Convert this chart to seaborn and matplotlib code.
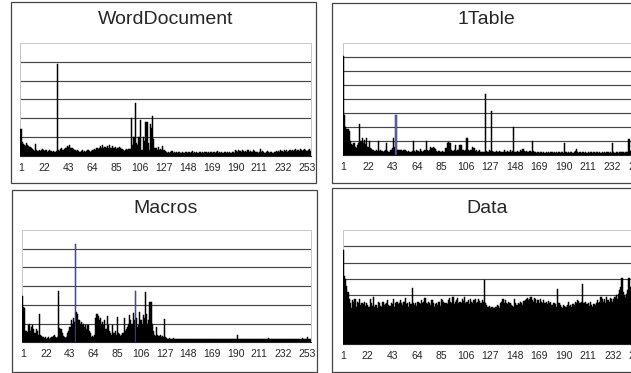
"""
    Byte value histograms of four OLE streams, drawn as 2x2 bar panels.
"""

import numpy as np
import pandas as pd
import seaborn as sns
import matplotlib.pyplot as plt
from matplotlib.patches import Rectangle

byte_index = list(range(1, 257))
tick_values = [1, 22, 43, 64, 85, 106, 127, 148, 169, 190, 211, 232, 253]
tick_labels = [str(v) for v in tick_values]

word_document = [
    1.45, 0.75, 0.65, 0.6, 0.55, 0.7, 0.6, 0.55, 0.5, 0.45, 0.35, 0.3, 0.25, 0.65, 0.3, 0.25,
    0.3, 0.25, 0.3, 0.35, 0.3, 0.25, 0.3, 0.2, 0.25, 0.3, 0.25, 0.25, 0.2, 0.25, 0.2, 0.25,
    4.9, 0.3, 0.25, 0.35, 0.45, 0.3, 0.35, 0.4, 0.45, 0.55, 0.5, 0.6, 0.45, 0.4, 0.35, 0.3,
    0.3, 0.25, 0.3, 0.25, 0.2, 0.25, 0.3, 0.2, 0.25, 0.2, 0.25, 0.3, 0.25, 0.2, 0.25, 0.3,
    0.3, 0.35, 0.3, 0.4, 0.35, 0.45, 0.55, 0.4, 0.6, 0.45, 0.5, 0.4, 0.55, 0.45, 0.6, 0.4,
    0.45, 0.55, 0.4, 0.5, 0.35, 0.4, 0.45, 0.5, 0.4, 0.35, 0.3, 0.25, 0.3, 0.35, 0.3, 0.35,
    0.35, 2.0, 0.6, 1.0, 1.0, 2.8, 0.7, 0.6, 1.0, 1.9, 0.3, 0.3, 1.0, 0.8, 1.8, 1.8,
    0.7, 0.3, 1.7, 1.5, 2.15, 0.9, 0.4, 0.4, 0.3, 0.5, 0.3, 0.35, 0.3, 0.55, 0.3, 0.25,
    0.2, 0.15, 0.2, 0.15, 0.2, 0.25, 0.15, 0.2, 0.15, 0.2, 0.15, 0.2, 0.2, 0.15, 0.2, 0.15,
    0.15, 0.2, 0.2, 0.15, 0.2, 0.15, 0.2, 0.25, 0.15, 0.2, 0.15, 0.2, 0.15, 0.2, 0.2, 0.15,
    0.2, 0.15, 0.2, 0.2, 0.15, 0.2, 0.15, 0.2, 0.2, 0.15, 0.2, 0.15, 0.2, 0.25, 0.15, 0.2,
    0.15, 0.2, 0.15, 0.2, 0.2, 0.15, 0.2, 0.15, 0.2, 0.15, 0.2, 0.2, 0.15, 0.3, 0.25, 0.2,
    0.3, 0.25, 0.2, 0.3, 0.25, 0.2, 0.25, 0.2, 0.3, 0.2, 0.25, 0.2, 0.2, 0.3, 0.25, 0.2,
    0.2, 0.15, 0.2, 0.35, 0.2, 0.25, 0.2, 0.15, 0.2, 0.25, 0.2, 0.15, 0.2, 0.2, 0.15, 0.2,
    0.2, 0.25, 0.2, 0.25, 0.2, 0.3, 0.25, 0.2, 0.3, 0.25, 0.3, 0.2, 0.25, 0.3, 0.25, 0.3,
    0.25, 0.3, 0.35, 0.25, 0.3, 0.25, 0.35, 0.3, 0.25, 0.3, 0.35, 0.3, 0.25, 0.3, 0.35, 0.25,
]

one_table = [
    7.05, 2.9, 2.0, 1.9, 1.9, 1.7, 1.0, 0.8, 0.7, 0.9, 0.6, 0.5, 0.7, 0.9, 2.2, 1.0,
    1.2, 0.9, 1.1, 0.8, 1.25, 0.6, 1.0, 0.5, 0.45, 0.4, 0.35, 0.3, 0.35, 0.3, 1.05, 0.3,
    0.35, 0.3, 0.25, 0.3, 0.4, 0.85, 0.3, 0.25, 0.35, 0.4, 0.5, 1.2, 0.6, 2.9, 0.4, 0.35,
    0.4, 0.35, 0.4, 0.3, 0.35, 0.4, 0.3, 0.25, 0.3, 0.25, 0.2, 0.3, 1.0, 0.3, 0.25, 0.35,
    0.3, 0.25, 0.45, 0.3, 0.25, 0.3, 0.35, 1.0, 0.4, 0.3, 0.35, 0.6, 0.55, 0.6, 0.5, 0.45,
    0.3, 0.25, 0.3, 0.2, 0.25, 0.3, 0.25, 0.2, 0.5, 0.9, 0.95, 0.85, 0.9, 0.4, 0.3, 0.35,
    0.7, 0.3, 0.35, 0.4, 0.75, 0.7, 0.4, 0.35, 0.3, 0.4, 1.25, 0.35, 0.3, 0.4, 0.35, 0.6,
    0.55, 0.3, 0.35, 0.25, 0.3, 0.35, 0.25, 0.2, 0.25, 0.2, 4.4, 0.3, 0.25, 0.35, 0.3, 3.15,
    0.3, 0.25, 0.2, 0.3, 0.25, 0.2, 0.3, 0.25, 0.2, 0.25, 0.4, 0.2, 0.25, 0.3, 0.2, 0.4,
    0.25, 0.3, 2.0, 0.25, 0.2, 0.3, 0.25, 0.2, 0.35, 0.3, 0.45, 0.3, 0.25, 0.3, 0.2, 0.25,
    0.3, 0.25, 1.0, 0.3, 0.25, 0.2, 0.15, 0.2, 0.15, 0.2, 0.25, 0.15, 0.2, 0.15, 0.2, 0.15,
    0.2, 0.15, 0.2, 0.25, 0.15, 0.2, 0.15, 0.2, 0.15, 0.2, 0.15, 0.2, 0.2, 0.15, 0.85, 0.2,
    0.15, 0.2, 0.15, 0.2, 0.2, 0.15, 0.2, 0.3, 0.45, 0.2, 0.15, 0.2, 0.15, 0.2, 0.2, 0.15,
    0.2, 0.15, 0.2, 0.15, 0.2, 0.25, 0.15, 0.2, 0.15, 0.2, 0.2, 0.15, 0.2, 0.15, 0.2, 0.15,
    0.2, 0.15, 0.2, 0.2, 0.15, 0.2, 0.15, 0.85, 0.2, 0.15, 0.2, 0.2, 0.15, 0.2, 0.25, 0.2,
    0.2, 0.15, 0.2, 0.25, 0.2, 1.15, 0.3, 0.25, 0.3, 0.25, 0.3, 0.35, 0.3, 0.4, 0.35, 0.3,
]

macros = [
    2.5, 1.9, 1.85, 0.6, 0.55, 0.9, 1.0, 0.6, 0.8, 0.9, 0.7, 0.5, 0.7, 0.6, 0.4, 1.5,
    0.4, 0.35, 0.3, 0.25, 0.3, 0.2, 0.25, 0.3, 0.2, 0.25, 0.3, 0.35, 0.4, 0.3, 0.25, 0.3,
    2.75, 0.75, 0.7, 0.5, 0.35, 0.3, 0.25, 0.3, 0.5, 0.6, 0.8, 1.2, 1.0, 1.3, 1.1, 5.25,
    1.6, 1.5, 1.2, 1.0, 1.1, 0.9, 1.0, 0.8, 0.95, 0.7, 0.9, 0.6, 0.5, 0.3, 0.35, 0.3,
    0.4, 1.3, 1.5, 1.4, 1.2, 1.3, 1.0, 1.1, 0.9, 1.2, 0.7, 1.42, 0.9, 0.6, 0.5, 0.4,
    0.93, 0.5, 0.6, 0.4, 1.33, 0.5, 0.45, 0.35, 0.4, 0.5, 1.3, 0.6, 0.7, 0.8, 1.0, 1.46,
    1.2, 1.0, 1.55, 1.2, 2.76, 1.3, 0.8, 0.9, 1.64, 1.2, 1.0, 1.46, 1.3, 2.67, 1.5, 1.0,
    1.2, 2.14, 2.17, 1.0, 0.6, 0.4, 0.35, 0.8, 0.4, 0.35, 0.4, 0.3, 0.35, 0.3, 1.23, 0.3,
    0.25, 0.2, 0.25, 0.2, 0.15, 0.2, 0.25, 0.2, 0.15, 0.2, 0.15, 0.2, 0.15, 0.2, 0.2, 0.15,
    0.2, 0.15, 0.2, 0.15, 0.2, 0.15, 0.2, 0.2, 0.15, 0.2, 0.15, 0.2, 0.15, 0.2, 0.15, 0.2,
    0.15, 0.2, 0.15, 0.2, 0.2, 0.15, 0.2, 0.15, 0.2, 0.15, 0.2, 0.2, 0.15, 0.2, 0.15, 0.2,
    0.15, 0.2, 0.15, 0.2, 0.15, 0.2, 0.2, 0.15, 0.2, 0.15, 0.2, 0.15, 0.2, 0.15, 0.2, 0.4,
    0.2, 0.15, 0.2, 0.15, 0.2, 0.15, 0.2, 0.2, 0.15, 0.2, 0.15, 0.2, 0.15, 0.2, 0.15, 0.2,
    0.2, 0.15, 0.2, 0.15, 0.2, 0.2, 0.15, 0.2, 0.15, 0.2, 0.25, 0.2, 0.15, 0.2, 0.15, 0.2,
    0.15, 0.2, 0.15, 0.2, 0.2, 0.15, 0.2, 0.15, 0.2, 0.15, 0.2, 0.15, 0.2, 0.2, 0.15, 0.2,
    0.15, 0.2, 0.2, 0.15, 0.2, 0.15, 0.2, 0.2, 0.25, 0.2, 0.15, 0.2, 0.2, 0.3, 0.2, 0.15,
]

data_stream = [
    5.8, 4.2, 4.0, 3.6, 3.2, 2.8, 2.5, 2.2, 2.7, 2.6, 2.75, 2.3, 2.6, 2.5, 2.8, 2.4,
    2.5, 2.45, 2.6, 2.35, 2.5, 2.4, 2.3, 2.75, 2.5, 2.35, 2.9, 2.3, 2.4, 2.2, 2.6, 2.5,
    2.35, 2.3, 2.6, 2.4, 2.45, 2.5, 2.7, 2.4, 2.35, 2.5, 2.45, 2.8, 2.3, 2.5, 2.6, 2.45,
    2.55, 2.7, 2.5, 2.4, 2.6, 2.85, 2.45, 2.5, 2.3, 2.6, 2.45, 3.45, 2.5, 2.4, 2.55, 2.35,
    2.6, 2.5, 2.45, 2.7, 2.5, 2.6, 2.85, 2.5, 2.45, 2.6, 2.55, 2.4, 2.7, 2.5, 2.3, 2.45,
    2.5, 2.4, 2.6, 2.35, 2.75, 2.7, 2.6, 2.5, 2.55, 2.45, 2.7, 2.85, 2.6, 2.5, 2.9, 2.45,
    2.6, 2.7, 2.85, 2.55, 2.6, 2.5, 2.75, 2.65, 2.9, 2.5, 2.6, 2.7, 2.45, 2.8, 2.6, 2.5,
    2.7, 2.75, 2.55, 2.6, 2.8, 2.65, 2.5, 2.7, 2.6, 3.95, 2.55, 2.4, 2.3, 2.35, 2.25, 2.3,
    2.3, 2.2, 2.25, 2.3, 2.4, 2.35, 2.25, 2.5, 2.6, 2.75, 2.5, 2.7, 2.55, 2.45, 2.6, 2.5,
    2.4, 2.35, 2.3, 2.8, 2.5, 2.4, 2.55, 2.45, 2.6, 2.5, 2.4, 2.65, 2.7, 2.8, 2.85, 2.7,
    2.75, 2.9, 2.7, 2.6, 2.85, 2.75, 2.5, 2.7, 2.55, 2.8, 2.6, 2.5, 2.7, 2.55, 2.6, 2.45,
    2.65, 2.5, 2.6, 2.4, 2.55, 2.5, 2.45, 2.3, 3.4, 2.5, 2.4, 2.3, 2.25, 2.4, 2.35, 2.3,
    2.4, 2.6, 2.35, 2.4, 2.3, 2.45, 2.4, 2.6, 2.55, 2.7, 2.65, 2.5, 2.6, 3.7, 2.5, 2.55,
    2.6, 2.45, 2.5, 2.35, 2.6, 2.4, 2.3, 2.45, 2.4, 2.55, 2.7, 2.5, 2.6, 2.9, 2.75, 2.6,
    2.8, 2.55, 2.9, 2.7, 2.6, 2.85, 2.75, 2.6, 2.8, 2.9, 3.0, 2.8, 3.1, 3.3, 3.5, 4.05,
    3.2, 3.0, 2.9, 3.1, 3.3, 4.05, 3.5, 3.2, 3.0, 2.9, 3.1, 3.3, 3.5, 3.7, 3.4, 3.2,
]

titles = ["WordDocument", "1Table", "Macros", "Data"]
series = [word_document, one_table, macros, data_stream]
y_max = [6, 8, 6, 7]
# bars that render bluish in the original
highlight = [[], [46], [48, 101], []]

W, H = 631, 373


def px_rect(x0, y0, x1, y1):
    """ Pixel box (from top-left) to figure fraction [left, bottom, width, height]. """
    return [x0 / W, (H - y1) / H, (x1 - x0) / W, (y1 - y0) / H]


# plot area boxes and outer frames, in pixels
axes_boxes = [(20.4, 43, 311, 156), (342.9, 43, 641.2, 155.3),
              (22.1, 230, 310.6, 342.3), (342.7, 230, 641.3, 344.3)]
frame_boxes = [(11, 2, 316, 183), (332, 3, 660, 183),
               (11.5, 190, 317, 371.5), (332, 188, 660, 371.5)]
title_pos = [(166, 20), (486, 20), (166, 208), (487, 208)]


def draw_panel(fig, values, title, ymax, blue, ax_box, frame_box, t_pos):
    ax = fig.add_axes(px_rect(*ax_box))
    df = pd.DataFrame({"byte": byte_index, "count": values})
    sns.barplot(data=df, x="byte", y="count", native_scale=True, color="black",
                saturation=1, width=1, linewidth=0.35, edgecolor="black",
                errorbar=None, ax=ax)
    for bar in ax.patches:
        bar.set_zorder(3)
    for i in blue:
        ax.patches[i - 1].set_facecolor("#6c6ca4")
        ax.patches[i - 1].set_edgecolor("#2e2e66")

    ax.set_xlim(0.5, 256.5)
    ax.set_ylim(0, ymax)
    ax.set_xticks(tick_values)
    ax.set_xticklabels(tick_labels, fontsize=7.5)
    ax.set_yticks(np.arange(1, ymax))
    ax.set_yticklabels([])
    ax.tick_params(axis="both", length=0)
    ax.tick_params(axis="x", pad=5)
    ax.set_xlabel("")
    ax.set_ylabel("")
    ax.set_axisbelow(True)
    ax.yaxis.grid(True, color="#454545", linewidth=0.85)
    ax.xaxis.grid(False)
    for side in ["top", "left", "right"]:
        ax.spines[side].set_color("#c8c8c8")
        ax.spines[side].set_linewidth(0.7)
    ax.spines["bottom"].set_color("#222222")
    ax.spines["bottom"].set_linewidth(0.8)

    x0, y0, x1, y1 = frame_box
    fig.add_artist(Rectangle((x0 / W, (H - y1) / H), (x1 - x0) / W, (y1 - y0) / H,
                             transform=fig.transFigure, fill=False,
                             edgecolor="#444444", linewidth=0.9))
    fig.text(t_pos[0] / W, 1 - t_pos[1] / H, title, ha="center", va="center",
             fontsize=14)


def main():
    sns.set_theme(style="white")
    plt.rcParams["font.family"] = ["Liberation Sans", "DejaVu Sans"]

    fig = plt.figure(figsize=(W / 100, H / 100), dpi=100)
    fig.patch.set_facecolor("white")
    for k in range(4):
        draw_panel(fig, series[k], titles[k], y_max[k], highlight[k],
                   axes_boxes[k], frame_boxes[k], title_pos[k])

    fig.savefig("out.png", dpi=100)


if __name__ == "__main__":
    main()
